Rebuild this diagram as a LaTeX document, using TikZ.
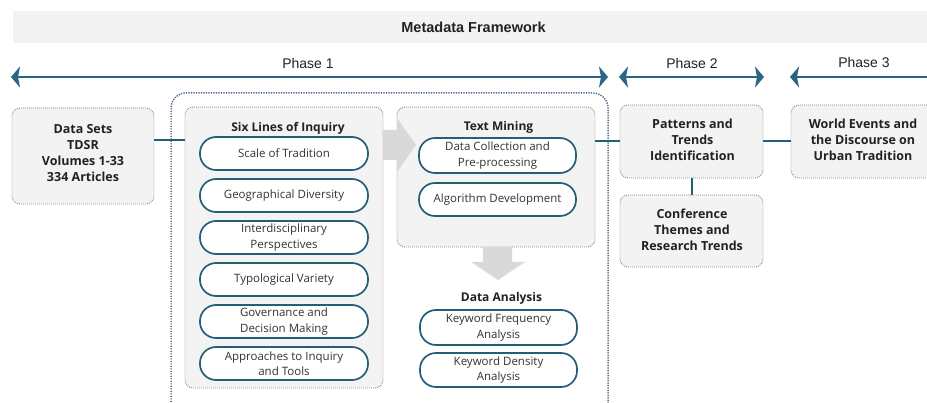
\documentclass[tikz,border=0pt]{standalone}
\usepackage{fontspec}
\setmainfont{Open Sans}
\newfontfamily\phasefont{Liberation Sans}
\usetikzlibrary{arrows.meta}
\definecolor{teal1}{HTML}{245E78}
\definecolor{arrowc}{HTML}{2A6585}
\definecolor{boxfill}{HTML}{F3F3F3}
\definecolor{boxline}{HTML}{8A8A8A}
\definecolor{outerline}{HTML}{4A6682}
\definecolor{bararrow}{HTML}{D9D9D9}
\definecolor{txt}{HTML}{222222}
\definecolor{ptxt}{HTML}{333333}
\tikzset{
  gbox/.style={draw=boxline, line width=0.9pt, dash pattern=on 0.9pt off 1.1pt, fill=boxfill,
    rounded corners=8pt, inner sep=0pt, align=center, text=txt,
    font=\bfseries\fontsize{12.5}{16}\selectfont},
  pill/.style={draw=teal1, line width=1.7pt, fill=white, rounded corners=16pt, inner sep=0pt,
    align=center, text=ptxt, font=\fontsize{11.5}{15.5}\selectfont},
  ttl/.style={text=txt, font=\bfseries\fontsize{12}{14}\selectfont, inner sep=0pt},
  conn/.style={draw=teal1, line width=2pt},
  phasearrow/.style={draw=arrowc, line width=2.5pt,
    {Stealth[length=9pt,width=21pt,inset=2pt]}-{Stealth[length=9pt,width=21pt,inset=2pt]}},
  phaselbl/.style={font=\phasefont\fontsize{14}{16}\selectfont, text=txt, inner sep=0pt},
  blockarrow/.style={fill=bararrow, draw=none},
  boxtext/.style={align=center, text=txt, inner sep=0pt, font=\bfseries\fontsize{12.5}{16}\selectfont}
}
\begin{document}
\begin{tikzpicture}[x=1pt,y=-1pt]
\path[use as bounding box] (0,0) rectangle (927,403);
\clip (0,0) rectangle (927,403);

% title bar
\node[fill=boxfill, minimum width=930pt, minimum height=32pt, inner sep=0pt, anchor=north west] (bar) at (13,11) {};
\node[font=\phasefont\bfseries\fontsize{14.5}{16}\selectfont, text=txt, inner sep=0pt] (title) at (473.5,27) {Metadata Framework};

% phase arrows
\coordinate (p1a) at (11,77);  \coordinate (p1b) at (608,77);
\coordinate (p2a) at (619,77); \coordinate (p2b) at (764,77);
\coordinate (p3a) at (790,77); \coordinate (p3b) at (936,77);
\draw[phasearrow] (p1a) -- (p1b);
\draw[phasearrow] (p2a) -- (p2b);
\draw[phasearrow] (p3a) -- (p3b);
\node[phaselbl] (l1) at (308,63) {Phase 1};
\node[phaselbl] (l2) at (692,63) {Phase 2};
\node[phaselbl] (l3) at (864,62) {Phase 3};

% outer phase-1 group
\coordinate (o1) at (171,412); \coordinate (o2) at (171,93);
\coordinate (o3) at (608,93);  \coordinate (o4) at (608,412);
\draw[outerline, line width=1.5pt, dash pattern=on 1.2pt off 1.3pt, rounded corners=15pt]
  (o1) -- (o2) -- (o3) -- (o4);

% boxes
\node[gbox, minimum width=142pt, minimum height=96pt] (ds) at (83,156) {};
\node[boxtext] (dst) at (83,153.5) {Data Sets\\TDSR\\Volumes 1-33\\334 Articles};
\node[gbox, minimum width=198pt, minimum height=281pt] (six) at (284,247.5) {};
\node[gbox, minimum width=198pt, minimum height=140pt] (tm) at (496,177) {};
\node[gbox, minimum width=143pt, minimum height=73pt] (pat) at (691.5,141.5) {};
\node[boxtext] (patt) at (692.5,140) {Patterns and\\Trends\\Identification};
\node[gbox, minimum width=143pt, minimum height=72pt] (conf) at (691.5,231) {};
\node[boxtext] (conft) at (692,229.5) {Conference\\Themes and\\Research Trends};
\node[gbox, minimum width=144pt, minimum height=73pt] (world) at (863,141.5) {};
\node[boxtext] (worldt) at (863,140) {World Events and\\the Discourse on\\Urban Tradition};

% connectors
\coordinate (c1) at (0,140);
\draw[conn] (ds.east |- c1) -- (six.west |- c1);
\draw[conn] (tm.east |- pat.west) -- (pat.west);
\draw[conn] (pat.south) -- (conf.north);
\draw[conn] (pat.east) -- (world.west);

% block arrows
\fill[blockarrow] (383,130) -- (397,130) -- (397,118) -- (416,145) -- (397,172) -- (397,160) -- (383,160) -- cycle;
\fill[blockarrow] (483,247) -- (512,247) -- (512,262) -- (525,262) -- (498,280) -- (471,262) -- (483,262) -- cycle;

% titles
\node[ttl] (sixt) at (288,128) {Six Lines of Inquiry};
\node[ttl] (tmt) at (498.5,127) {Text Mining};
\node[ttl] (dat) at (501.5,298) {Data Analysis};

% pills: six lines
\tikzset{sixpill/.style={pill, minimum width=168pt, minimum height=33pt}}
\node[sixpill] (s1) at (284,153.5) {Scale of Tradition};
\node[sixpill] (s2) at (284,195.5) {Geographical Diversity};
\node[sixpill] (s3) at (284,237.5) {Interdisciplinary\\Perspectives};
\node[sixpill] (s4) at (284,279.5) {Typological Variety};
\node[sixpill] (s5) at (284,321.5) {Governance and\\Decision Making};
\node[sixpill] (s6) at (284,363.5) {Approaches to Inquiry\\and Tools};

% pills: text mining
\node[pill, minimum width=157pt, minimum height=35pt] (t1) at (497.5,155.5) {Data Collection and\\Pre-processing};
\node[pill, minimum width=157pt, minimum height=33pt] (t2) at (497.5,199.5) {Algorithm Development};

% pills: data analysis
\node[pill, minimum width=157pt, minimum height=35pt] (d1) at (498.5,327.5) {Keyword Frequency\\Analysis};
\node[pill, minimum width=157pt, minimum height=34pt] (d2) at (498.5,370) {Keyword Density\\Analysis};
\end{tikzpicture}
\end{document}
